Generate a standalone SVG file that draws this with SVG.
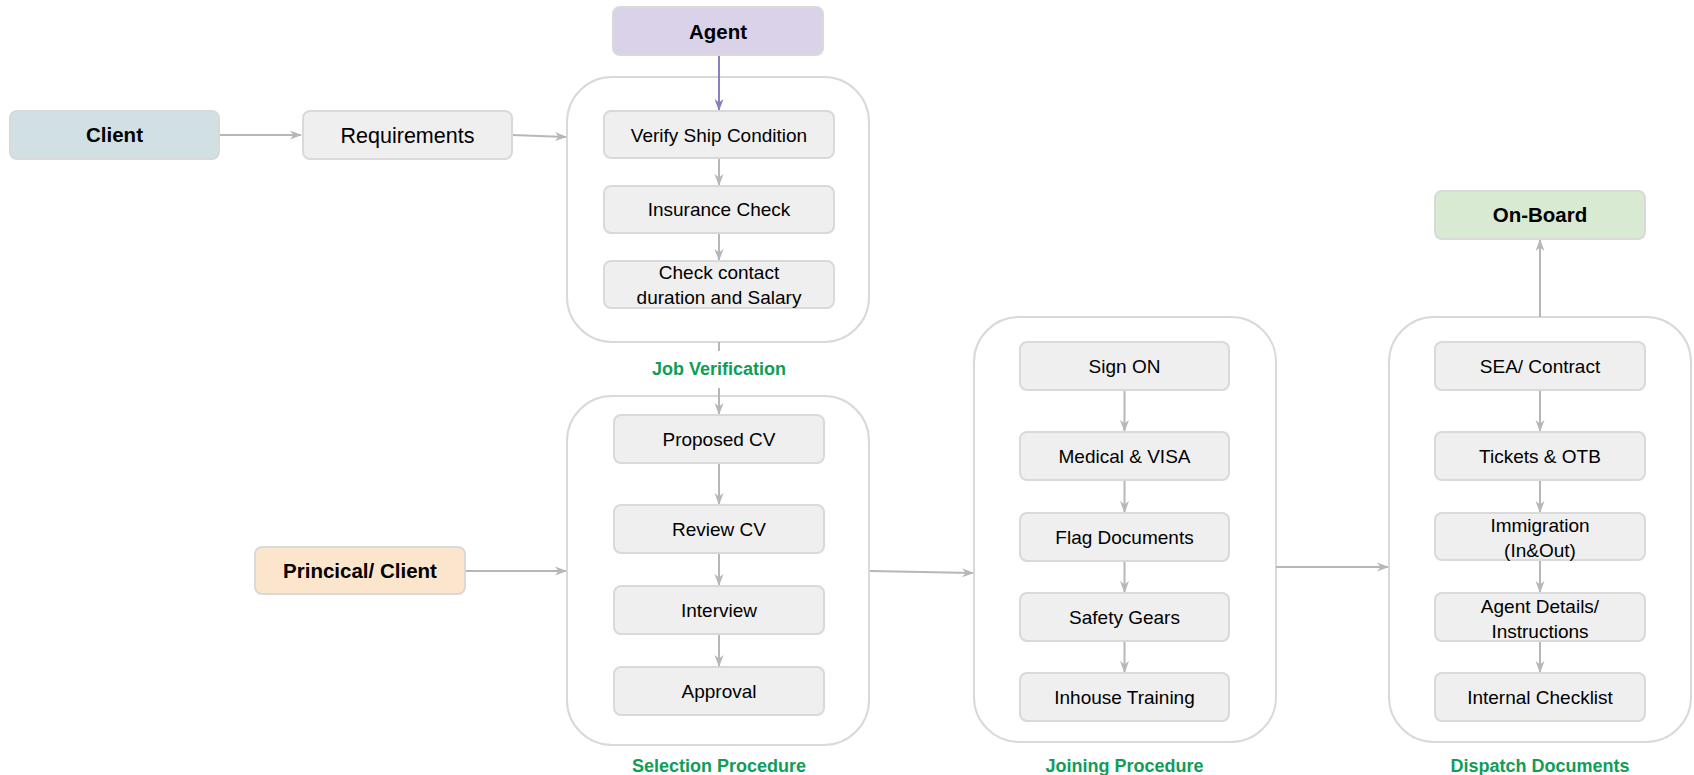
<svg xmlns="http://www.w3.org/2000/svg" width="1694" height="775" viewBox="0 0 1694 775">
<style>
.box{fill:#efefef;stroke:#d9d9d9;stroke-width:2}
.grp{fill:#ffffff;stroke:#d9d9d9;stroke-width:2}
.t{font-family:"Liberation Sans",Arial,sans-serif;font-size:19px;fill:#000;text-anchor:middle}
.tb{font-family:"Liberation Sans",Arial,sans-serif;font-size:20.5px;font-weight:bold;fill:#000;text-anchor:middle}
.lbl{font-family:"Liberation Sans",Arial,sans-serif;font-size:18px;font-weight:bold;fill:#0f9d58;text-anchor:middle}
.c{fill:none;stroke:#b7b7b7;stroke-width:2;marker-end:url(#ah)}
.cp{fill:none;stroke:#8e7cc3;stroke-width:2;marker-end:url(#ahp)}
</style>
<defs>
<marker id="ah" viewBox="0 0 12 10" refX="11" refY="5" markerWidth="12" markerHeight="10" markerUnits="userSpaceOnUse" orient="auto">
<path d="M0,0.5 L12,5 L0,9.5 L3.5,5 z" fill="#b7b7b7"/>
</marker>
<marker id="ahp" viewBox="0 0 12 10" refX="11" refY="5" markerWidth="12" markerHeight="10" markerUnits="userSpaceOnUse" orient="auto">
<path d="M0,0.5 L12,5 L0,9.5 L3.5,5 z" fill="#8e7cc3"/>
</marker>
</defs>
<rect width="1694" height="775" fill="#ffffff"/>

<!-- containers -->
<g id="job-verification">
<rect class="grp" x="567" y="77" width="302" height="265" rx="45"/>
<text class="lbl" x="719" y="375">Job Verification</text>
</g>
<g id="selection-procedure">
<rect class="grp" x="567" y="396" width="302" height="349" rx="45"/>
<text class="lbl" x="719" y="772">Selection Procedure</text>
</g>
<g id="joining-procedure">
<rect class="grp" x="974" y="317" width="302" height="425" rx="45"/>
<text class="lbl" x="1124.5" y="772">Joining Procedure</text>
</g>
<g id="dispatch-documents">
<rect class="grp" x="1389" y="317" width="302" height="425" rx="45"/>
<text class="lbl" x="1540" y="772">Dispatch Documents</text>
</g>

<!-- connectors -->
<g id="connectors">
<path class="c" d="M219,135 L301,135"/>
<path class="c" d="M512,135 L566,137"/>
<path class="cp" d="M719,55 L719,110"/>
<path class="c" d="M719,158 L719,185"/>
<path class="c" d="M719,233 L719,260"/>
<path class="c" d="M719,342 V351 M719,388 V414"/>
<path class="c" d="M719,463 L719,504"/>
<path class="c" d="M719,553 L719,585"/>
<path class="c" d="M719,634 L719,666"/>
<path class="c" d="M465,571 L566,571"/>
<path class="c" d="M870,571 L973,573"/>
<path class="c" d="M1124.5,390 L1124.5,431"/>
<path class="c" d="M1124.5,480 L1124.5,512"/>
<path class="c" d="M1124.5,561 L1124.5,592"/>
<path class="c" d="M1124.5,641 L1124.5,672"/>
<path class="c" d="M1276,567 L1388,567"/>
<path class="c" d="M1540,390 L1540,431"/>
<path class="c" d="M1540,480 L1540,512"/>
<path class="c" d="M1540,560 L1540,592"/>
<path class="c" d="M1540,641 L1540,672"/>
<path class="c" d="M1540,317 L1540,240"/>
</g>

<!-- nodes -->
<g id="client">
<rect x="10" y="111" width="209" height="48" rx="7" fill="#d0e0e3" stroke="#d9d9d9" stroke-width="2"/>
<text class="tb" x="114.5" y="142">Client</text>
</g>
<g id="requirements">
<rect class="box" x="303" y="111" width="209" height="48" rx="7"/>
<text class="t" x="407.5" y="143" style="font-size:21.5px">Requirements</text>
</g>
<g id="agent">
<rect x="613" y="7" width="210" height="48" rx="7" fill="#d9d2e9" stroke="#d9d9d9" stroke-width="2"/>
<text class="tb" x="718" y="39">Agent</text>
</g>
<g id="verify-ship">
<rect class="box" x="604" y="111" width="230" height="47" rx="7"/>
<text class="t" x="719" y="142">Verify Ship Condition</text>
</g>
<g id="insurance-check">
<rect class="box" x="604" y="186" width="230" height="47" rx="7"/>
<text class="t" x="719" y="216">Insurance Check</text>
</g>
<g id="check-contact">
<rect class="box" x="604" y="261" width="230" height="47" rx="7"/>
<text class="t" x="719" y="279">Check contact</text>
<text class="t" x="719" y="304">duration and Salary</text>
</g>
<g id="proposed-cv">
<rect class="box" x="614" y="415" width="210" height="48" rx="7"/>
<text class="t" x="719" y="446">Proposed CV</text>
</g>
<g id="review-cv">
<rect class="box" x="614" y="505" width="210" height="48" rx="7"/>
<text class="t" x="719" y="536">Review CV</text>
</g>
<g id="interview">
<rect class="box" x="614" y="586" width="210" height="48" rx="7"/>
<text class="t" x="719" y="617">Interview</text>
</g>
<g id="approval">
<rect class="box" x="614" y="667" width="210" height="48" rx="7"/>
<text class="t" x="719" y="698">Approval</text>
</g>
<g id="principal-client">
<rect x="255" y="547" width="210" height="47" rx="7" fill="#fce5cd" stroke="#d9d9d9" stroke-width="2"/>
<text class="tb" x="360" y="578">Princical/ Client</text>
</g>
<g id="sign-on">
<rect class="box" x="1020" y="342" width="209" height="48" rx="7"/>
<text class="t" x="1124.5" y="373">Sign ON</text>
</g>
<g id="medical-visa">
<rect class="box" x="1020" y="432" width="209" height="48" rx="7"/>
<text class="t" x="1124.5" y="463">Medical &amp; VISA</text>
</g>
<g id="flag-documents">
<rect class="box" x="1020" y="513" width="209" height="48" rx="7"/>
<text class="t" x="1124.5" y="544">Flag Documents</text>
</g>
<g id="safety-gears">
<rect class="box" x="1020" y="593" width="209" height="48" rx="7"/>
<text class="t" x="1124.5" y="624">Safety Gears</text>
</g>
<g id="inhouse-training">
<rect class="box" x="1020" y="673" width="209" height="48" rx="7"/>
<text class="t" x="1124.5" y="704">Inhouse Training</text>
</g>
<g id="on-board">
<rect x="1435" y="191" width="210" height="48" rx="7" fill="#d9ead3" stroke="#d9d9d9" stroke-width="2"/>
<text class="tb" x="1540" y="222">On-Board</text>
</g>
<g id="sea-contract">
<rect class="box" x="1435" y="342" width="210" height="48" rx="7"/>
<text class="t" x="1540" y="373">SEA/ Contract</text>
</g>
<g id="tickets-otb">
<rect class="box" x="1435" y="432" width="210" height="48" rx="7"/>
<text class="t" x="1540" y="463">Tickets &amp; OTB</text>
</g>
<g id="immigration">
<rect class="box" x="1435" y="513" width="210" height="47" rx="7"/>
<text class="t" x="1540" y="532">Immigration</text>
<text class="t" x="1540" y="557">(In&amp;Out)</text>
</g>
<g id="agent-details">
<rect class="box" x="1435" y="593" width="210" height="48" rx="7"/>
<text class="t" x="1540" y="613">Agent Details/</text>
<text class="t" x="1540" y="638">Instructions</text>
</g>
<g id="internal-checklist">
<rect class="box" x="1435" y="673" width="210" height="48" rx="7"/>
<text class="t" x="1540" y="704">Internal Checklist</text>
</g>
</svg>
